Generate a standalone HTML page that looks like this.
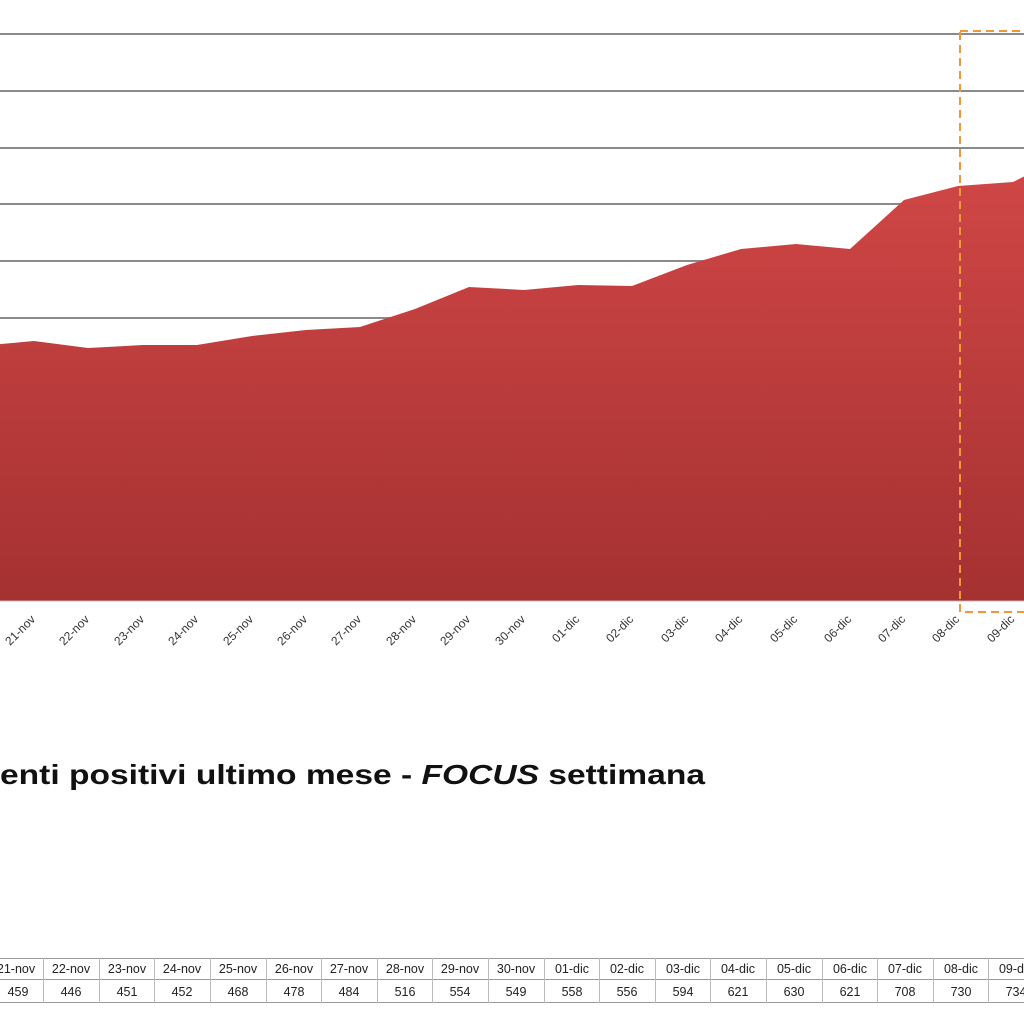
<!DOCTYPE html>
<html><head><meta charset="utf-8"><style>
html,body{margin:0;padding:0;background:#fff;width:1024px;height:1024px;overflow:hidden}
</style></head><body>
<svg width="1024" height="1024" viewBox="0 0 1024 1024" xmlns="http://www.w3.org/2000/svg" font-family="Liberation Sans, sans-serif">
<defs>
<linearGradient id="g" x1="0" y1="0" x2="0" y2="1">
<stop offset="0" stop-color="#d24747"/>
<stop offset="1" stop-color="#a53131"/>
</linearGradient>
</defs>
<g stroke="#8a8a8a" stroke-width="2">
<line x1="0" y1="34" x2="1024" y2="34"/>
<line x1="0" y1="91" x2="1024" y2="91"/>
<line x1="0" y1="148" x2="1024" y2="148"/>
<line x1="0" y1="204" x2="1024" y2="204"/>
<line x1="0" y1="261" x2="1024" y2="261"/>
<line x1="0" y1="318" x2="1024" y2="318"/>
</g>
<polygon fill="url(#g)" points="-20,346 34,341 88,348 143,345 197,345 252,336 306,330 360,327 415,309 469,287 524,290 578,285 632,286 687,265 741,249 796,244 850,249 904,200 958,186 1013,182 1067,155 1067,601 -20,601"/>
<line x1="0" y1="601" x2="1024" y2="601" stroke="#b8b8b8" stroke-width="1"/>
<rect x="960" y="31" width="80" height="581" fill="none" stroke="#f0963c" stroke-width="2" stroke-dasharray="8,5"/>
<g font-size="12" fill="#333" text-anchor="end">
<text transform="translate(36,620) rotate(-45)">21-nov</text>
<text transform="translate(90,620) rotate(-45)">22-nov</text>
<text transform="translate(145,620) rotate(-45)">23-nov</text>
<text transform="translate(199,620) rotate(-45)">24-nov</text>
<text transform="translate(254,620) rotate(-45)">25-nov</text>
<text transform="translate(308,620) rotate(-45)">26-nov</text>
<text transform="translate(362,620) rotate(-45)">27-nov</text>
<text transform="translate(417,620) rotate(-45)">28-nov</text>
<text transform="translate(471,620) rotate(-45)">29-nov</text>
<text transform="translate(526,620) rotate(-45)">30-nov</text>
<text transform="translate(580,620) rotate(-45)">01-dic</text>
<text transform="translate(634,620) rotate(-45)">02-dic</text>
<text transform="translate(689,620) rotate(-45)">03-dic</text>
<text transform="translate(743,620) rotate(-45)">04-dic</text>
<text transform="translate(798,620) rotate(-45)">05-dic</text>
<text transform="translate(852,620) rotate(-45)">06-dic</text>
<text transform="translate(906,620) rotate(-45)">07-dic</text>
<text transform="translate(960,620) rotate(-45)">08-dic</text>
<text transform="translate(1015,620) rotate(-45)">09-dic</text>
</g>
<text x="0" y="784" font-size="28" font-weight="bold" fill="#111" textLength="705" lengthAdjust="spacingAndGlyphs">enti positivi ultimo mese - <tspan font-style="italic">FOCUS</tspan> settimana</text>
<g stroke="#999" stroke-width="1" fill="none">
<line x1="0" y1="958.5" x2="1024" y2="958.5"/>
<line x1="0" y1="979.5" x2="1024" y2="979.5"/>
<line x1="0" y1="1002.5" x2="1024" y2="1002.5"/>
</g>
<g stroke="#bbb" stroke-width="1">
<line x1="43.5" y1="958" x2="43.5" y2="1003"/><line x1="99.5" y1="958" x2="99.5" y2="1003"/><line x1="154.5" y1="958" x2="154.5" y2="1003"/><line x1="210.5" y1="958" x2="210.5" y2="1003"/><line x1="266.5" y1="958" x2="266.5" y2="1003"/><line x1="321.5" y1="958" x2="321.5" y2="1003"/><line x1="377.5" y1="958" x2="377.5" y2="1003"/><line x1="432.5" y1="958" x2="432.5" y2="1003"/><line x1="488.5" y1="958" x2="488.5" y2="1003"/><line x1="544.5" y1="958" x2="544.5" y2="1003"/><line x1="599.5" y1="958" x2="599.5" y2="1003"/><line x1="655.5" y1="958" x2="655.5" y2="1003"/><line x1="710.5" y1="958" x2="710.5" y2="1003"/><line x1="766.5" y1="958" x2="766.5" y2="1003"/><line x1="822.5" y1="958" x2="822.5" y2="1003"/><line x1="877.5" y1="958" x2="877.5" y2="1003"/><line x1="933.5" y1="958" x2="933.5" y2="1003"/><line x1="988.5" y1="958" x2="988.5" y2="1003"/>
</g>
<g font-size="12.5" fill="#222" text-anchor="middle">
<text x="16" y="973">21-nov</text><text x="71" y="973">22-nov</text><text x="127" y="973">23-nov</text><text x="182" y="973">24-nov</text><text x="238" y="973">25-nov</text><text x="294" y="973">26-nov</text><text x="349" y="973">27-nov</text><text x="405" y="973">28-nov</text><text x="460" y="973">29-nov</text><text x="516" y="973">30-nov</text><text x="572" y="973">01-dic</text><text x="627" y="973">02-dic</text><text x="683" y="973">03-dic</text><text x="738" y="973">04-dic</text><text x="794" y="973">05-dic</text><text x="850" y="973">06-dic</text><text x="905" y="973">07-dic</text><text x="961" y="973">08-dic</text><text x="1016" y="973">09-dic</text>
<text x="18" y="996">459</text><text x="71" y="996">446</text><text x="127" y="996">451</text><text x="182" y="996">452</text><text x="238" y="996">468</text><text x="294" y="996">478</text><text x="349" y="996">484</text><text x="405" y="996">516</text><text x="460" y="996">554</text><text x="516" y="996">549</text><text x="572" y="996">558</text><text x="627" y="996">556</text><text x="683" y="996">594</text><text x="738" y="996">621</text><text x="794" y="996">630</text><text x="850" y="996">621</text><text x="905" y="996">708</text><text x="961" y="996">730</text><text x="1016" y="996">734</text>
</g>
</svg>
</body></html>
